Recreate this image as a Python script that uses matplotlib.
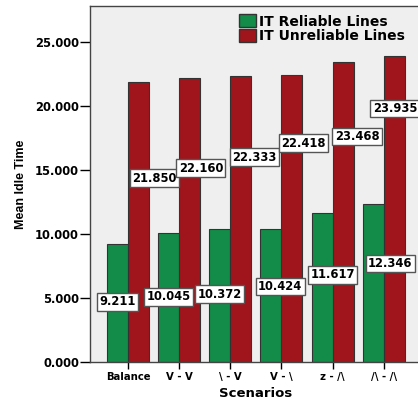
import numpy as np
import matplotlib

matplotlib.use("Agg")
import matplotlib.pyplot as plt
from matplotlib.patches import Patch

plt.rcParams["font.family"] = ["DejaVu Sans"]
plt.rcParams["font.weight"] = "bold"

scenarios = ["Balance", "V - V", "\\ - V", "V - \\", "z - /\\", "/\\ - /\\"]
reliable = [9.211, 10.045, 10.372, 10.424, 11.617, 12.346]
unreliable = [21.850, 22.160, 22.333, 22.418, 23.468, 23.935]

# label placement (nudged off the bars so the boxes don't collide)
rel_label_y = [4.7, 5.1, 5.3, 5.9, 6.8, 7.7]
rel_label_dx = [0.0, 0.0, 0.0, 0.18, 0.21, 0.33]
unrel_label_y = [14.35, 15.15, 16.0, 17.1, 17.6, 19.8]
unrel_label_dx = [0.31, 0.22, 0.27, 0.23, 0.27, 0.01]

GREEN = "#128c48"
RED = "#a0151b"
BG = "#efefef"

fig = plt.figure(figsize=(4.18, 4.03), dpi=100)
ax = fig.add_axes([0.2153, 0.1017, 0.7937, 0.8833])
ax.set_facecolor(BG)

x = np.arange(len(scenarios))
w = 0.41
ax.bar(x - w / 2, reliable, w, color=GREEN, edgecolor="#333333", linewidth=0.8, zorder=2)
ax.bar(x + w / 2, unreliable, w, color=RED, edgecolor="#333333", linewidth=0.8, zorder=2)

box = dict(boxstyle="square,pad=0.2", facecolor="white", edgecolor="#555555", linewidth=1.0)
for i in range(len(scenarios)):
    ax.text(x[i] - w / 2 + rel_label_dx[i], rel_label_y[i], f"{reliable[i]:.3f}",
            ha="center", va="center", fontsize=8.3, fontweight="bold", bbox=box, zorder=3)
    ax.text(x[i] + w / 2 + unrel_label_dx[i], unrel_label_y[i], f"{unreliable[i]:.3f}",
            ha="center", va="center", fontsize=8.3, fontweight="bold", bbox=box, zorder=3)

ax.set_xlim(-0.74, 5.74)
ax.set_ylim(0, 27.8)
ax.set_yticks([0, 5, 10, 15, 20, 25])
ax.set_yticklabels([f"{v:.3f}" for v in [0, 5, 10, 15, 20, 25]], fontsize=8.3, fontweight="bold")
ax.set_xticks(x)
ax.set_xticklabels(scenarios, fontsize=7.3, fontweight="bold")
ax.tick_params(axis="y", direction="out", length=7, width=1, pad=1)
ax.tick_params(axis="x", direction="out", length=5, width=1, pad=2)

for s in ax.spines.values():
    s.set_color("#444444")
    s.set_linewidth(1.0)

ax.set_ylabel("Mean Idle Time", fontsize=9, fontweight="bold", labelpad=6,
              family=["Liberation Sans", "DejaVu Sans"])
ax.set_xlabel("Scenarios", fontsize=9.5, fontweight="bold", labelpad=4)

handles = [Patch(facecolor=GREEN, edgecolor="#333333", label="IT Reliable Lines"),
           Patch(facecolor=RED, edgecolor="#333333", label="IT Unreliable Lines")]
ax.legend(handles=handles, loc="upper left", bbox_to_anchor=(0.425, 1.0), frameon=False,
          handlelength=1.2, handleheight=1.05, handletextpad=0.25,
          labelspacing=0.05, borderaxespad=0.2, prop={"weight": "bold", "size": 10})

fig.savefig("out.png", dpi=100)
